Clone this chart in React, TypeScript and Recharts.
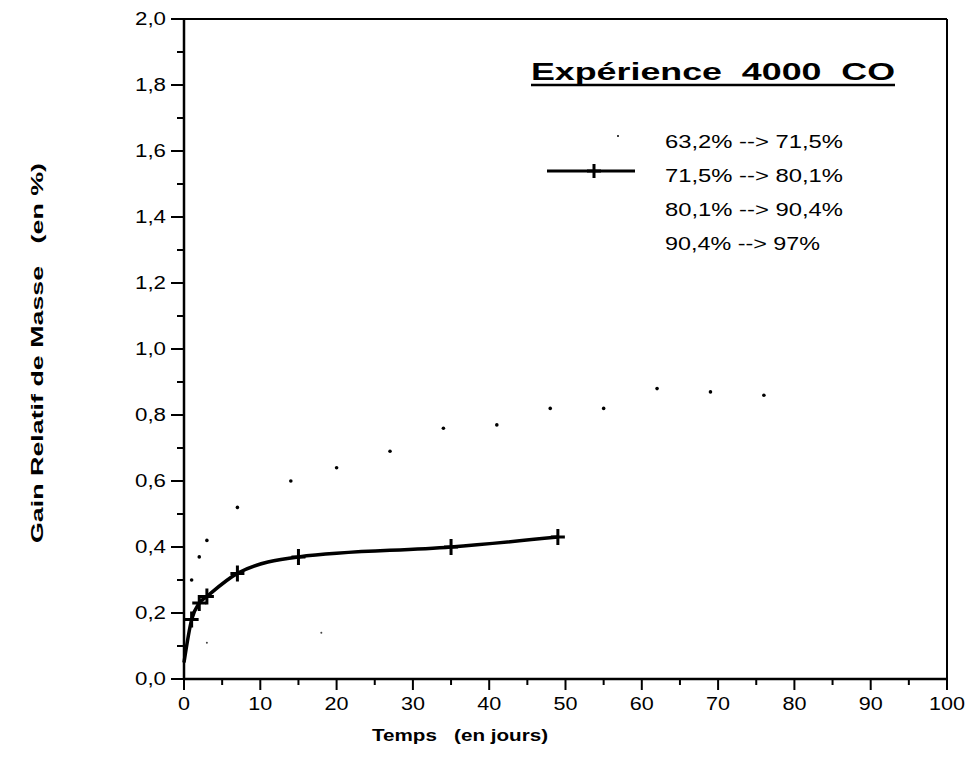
import React from 'react';
import { LineChart, Line, XAxis, YAxis, ReferenceLine, Legend } from 'recharts';

const FONT = '"Liberation Sans", Arial, Helvetica, sans-serif';

// 63,2% --> 71,5%  (small dots)
const days1 = [1, 2, 3, 7, 14, 20, 27, 34, 41, 48, 55, 62, 69, 76];
const gain1 = [0.30, 0.37, 0.42, 0.52, 0.60, 0.64, 0.69, 0.76, 0.77, 0.82, 0.82, 0.88, 0.87, 0.86];

// 71,5% --> 80,1%  (solid line with crosses)
const days2 = [0, 1, 2, 3, 7, 15, 35, 49];
const gain2 = [0.05, 0.18, 0.23, 0.25, 0.32, 0.37, 0.40, 0.43];

// 80,1% --> 90,4%  (only two faint points visible)
const days3 = [3, 18];
const gain3 = [0.11, 0.14];

const seriesNames = ['63,2% --> 71,5%', '71,5% --> 80,1%', '80,1% --> 90,4%', '90,4% --> 97%'];

const xTicks = [0, 5, 10, 15, 20, 25, 30, 35, 40, 45, 50, 55, 60, 65, 70, 75, 80, 85, 90, 95, 100];
const yTicks = [0, 0.1, 0.2, 0.3, 0.4, 0.5, 0.6, 0.7, 0.8, 0.9, 1.0, 1.1, 1.2, 1.3, 1.4, 1.5, 1.6, 1.7, 1.8, 1.9, 2.0];

const toRows = (days: number[], gains: number[]) => days.map((d, i) => ({ day: d, gain: gains[i] }));
const data1 = toRows(days1, gain1);
const data2 = toRows(days2, gain2);
const data3 = toRows(days3, gain3);

const YTick = ({ x, y, payload }: any) => {
  const major = Math.round(payload.value * 10) % 2 === 0;
  const label = payload.value.toFixed(1).replace('.', ',');
  return (
    <g>
      <line x1={x} x2={x - (major ? 13 : 7)} y1={y} y2={y} stroke="#000" strokeWidth={2} />
      {major && (
        <text x={x - 18} y={y} dy={6} textAnchor="end" fontSize={18} fontFamily={FONT} fill="#000"
          textLength={31} lengthAdjust="spacingAndGlyphs">
          {label}
        </text>
      )}
    </g>
  );
};

const XTick = ({ x, y, payload }: any) => {
  const major = payload.value % 10 === 0;
  const label = String(payload.value);
  return (
    <g>
      <line x1={x} x2={x} y1={y} y2={y + (major ? 11 : 6)} stroke="#000" strokeWidth={2} />
      {major && (
        <text x={x} y={y + 31} textAnchor="middle" fontSize={18} fontFamily={FONT} fill="#000"
          textLength={label.length * 12} lengthAdjust="spacingAndGlyphs">
          {label}
        </text>
      )}
    </g>
  );
};

const Cross = (props: any) => {
  const { cx, cy, index, payload } = props;
  if (payload.day === 0) return <g key={`c${index}`} />;
  return (
    <path
      key={`c${index}`}
      d={`M${cx - 7},${cy}H${cx + 7}M${cx},${cy - 8}V${cy + 8}`}
      stroke="#000"
      strokeWidth={3}
      fill="none"
    />
  );
};

const legendY = [148, 182, 216, 250];
const legendW = [178, 178, 178, 155];

const renderLegend = () => (
  <svg width={975} height={773} style={{ position: 'absolute', left: 0, top: 0 }}>
    <text
      x={531}
      y={80}
      fontSize={24}
      fontWeight="bold"
      fontFamily={FONT}
      textLength={364}
      lengthAdjust="spacingAndGlyphs"
      style={{ whiteSpace: 'pre' }}
    >
      {'Expérience  4000  CO'}
    </text>
    <line x1={531} x2={895} y1={85} y2={85} stroke="#000" strokeWidth={2.5} />
    <circle cx={618} cy={136} r={1} fill="#000" />
    <line x1={547} x2={635} y1={171} y2={171} stroke="#000" strokeWidth={3} />
    <path d="M587,171H601M594,164V178" stroke="#000" strokeWidth={3} />
    {seriesNames.map((n, i) => (
      <text
        key={n}
        x={665}
        y={legendY[i]}
        fontSize={19}
        fontFamily={FONT}
        textLength={legendW[i]}
        lengthAdjust="spacingAndGlyphs"
      >
        {n}
      </text>
    ))}
  </svg>
);

export default function App() {
  return (
    <div style={{ position: 'absolute', left: 0, top: 0, width: 975, height: 773, background: '#fff' }}>
      <LineChart width={975} height={773} margin={{ top: 19, right: 28, bottom: 54, left: 124 }}>
        <XAxis
          dataKey="day"
          type="number"
          domain={[0, 100]}
          ticks={xTicks}
          interval={0}
          height={40}
          tickSize={0}
          tickMargin={0}
          tick={<XTick />}
          axisLine={{ stroke: '#000', strokeWidth: 2.5 }}
          label={{
            content: () => (
              <text
                x={460}
                y={741}
                textAnchor="middle"
                fontSize={17}
                fontWeight="bold"
                fontFamily={FONT}
                textLength={176}
                lengthAdjust="spacingAndGlyphs"
                style={{ whiteSpace: 'pre' }}
              >
                {'Temps   (en jours)'}
              </text>
            ),
          }}
        />
        <YAxis
          dataKey="gain"
          type="number"
          domain={[0, 2]}
          ticks={yTicks}
          interval={0}
          width={60}
          tickSize={0}
          tickMargin={0}
          tick={<YTick />}
          axisLine={{ stroke: '#000', strokeWidth: 2.5 }}
          label={{
            content: () => (
              <text
                x={43}
                y={353}
                transform="rotate(-90 43 353)"
                textAnchor="middle"
                fontSize={17}
                fontWeight="bold"
                fontFamily={FONT}
                textLength={380}
                lengthAdjust="spacingAndGlyphs"
                style={{ whiteSpace: 'pre' }}
              >
                {'Gain Relatif de Masse   (en %)'}
              </text>
            ),
          }}
        />
        <ReferenceLine x={100} stroke="#000" strokeWidth={2} />
        <ReferenceLine y={2} stroke="#000" strokeWidth={2} />
        <Legend verticalAlign="middle" content={renderLegend} wrapperStyle={{ left: 0, top: 0, width: 975, height: 773, pointerEvents: 'none' }} />
        <Line
          data={data1}
          dataKey="gain"
          name={seriesNames[0]}
          stroke="none"
          dot={{ r: 1.8, fill: '#000', stroke: 'none' }}
          isAnimationActive={false}
        />
        <Line
          data={data2}
          dataKey="gain"
          name={seriesNames[1]}
          type="monotone"
          stroke="#000"
          strokeWidth={3.5}
          dot={Cross}
          isAnimationActive={false}
        />
        <Line
          data={data3}
          dataKey="gain"
          name={seriesNames[2]}
          stroke="none"
          dot={{ r: 1, fill: '#444', stroke: 'none' }}
          isAnimationActive={false}
        />
      </LineChart>
    </div>
  );
}
